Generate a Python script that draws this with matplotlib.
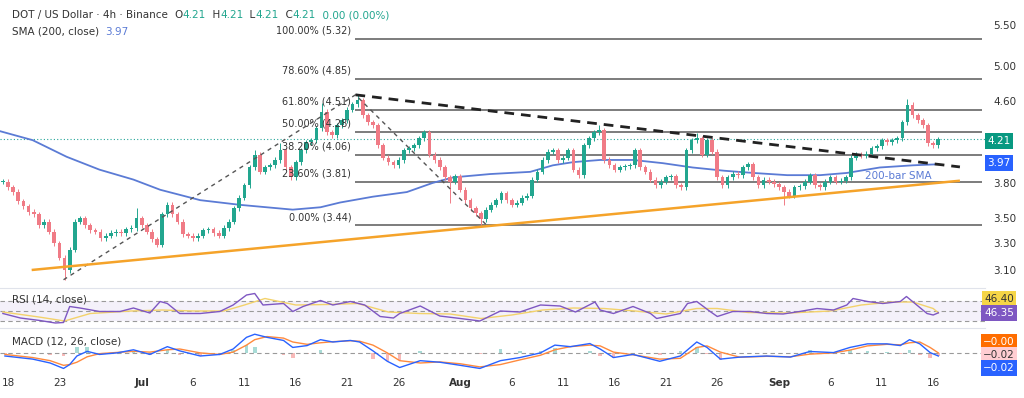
import matplotlib.pyplot as plt
import numpy as np
from matplotlib.ticker import FixedLocator, FormatStrFormatter, NullLocator

# ---- data (x = days since 18 Jun, 00:00) ----
close_days = np.arange(-0.5, 91.0, 0.5)   # 12h bars
closes = np.array([
    3.81, 3.76, 3.72, 3.64, 3.60, 3.55, 3.53, 3.44, 3.47, 3.39,
    3.30, 3.19, 3.10, 3.25, 3.47, 3.50, 3.44, 3.40, 3.39, 3.34,
    3.36, 3.38, 3.39, 3.38, 3.41, 3.42, 3.50, 3.44, 3.39, 3.33,
    3.29, 3.53, 3.61, 3.53, 3.47, 3.37, 3.36, 3.34, 3.36, 3.40,
    3.41, 3.38, 3.36, 3.42, 3.47, 3.58, 3.67, 3.78, 3.94, 4.06,
    3.90, 3.94, 3.96, 4.01, 4.10, 3.94, 3.85, 3.99, 4.10, 4.18,
    4.20, 4.32, 4.49, 4.28, 4.25, 4.35, 4.40, 4.51, 4.57, 4.61,
    4.45, 4.38, 4.35, 4.15, 4.03, 3.99, 3.96, 4.01, 4.10, 4.12,
    4.15, 4.22, 4.28, 4.06, 4.01, 3.94, 3.85, 3.81, 3.86, 3.74,
    3.65, 3.58, 3.54, 3.49, 3.57, 3.61, 3.65, 3.71, 3.65, 3.61,
    3.63, 3.67, 3.69, 3.83, 3.90, 4.01, 4.09, 4.10, 4.01, 4.03,
    4.10, 3.92, 3.87, 4.15, 4.22, 4.28, 4.30, 4.01, 3.96, 3.92,
    3.94, 3.95, 3.96, 4.10, 3.94, 3.90, 3.83, 3.78, 3.81, 3.85,
    3.86, 3.78, 3.76, 4.10, 4.20, 4.22, 4.06, 4.20, 4.09, 3.85,
    3.78, 3.85, 3.88, 3.87, 3.94, 3.97, 3.85, 3.78, 3.83, 3.81,
    3.79, 3.76, 3.72, 3.69, 3.76, 3.77, 3.81, 3.87, 3.78, 3.76,
    3.81, 3.85, 3.81, 3.82, 3.85, 4.03, 4.06, 4.05, 4.07, 4.12,
    4.14, 4.20, 4.18, 4.20, 4.22, 4.38, 4.56, 4.45, 4.40, 4.35,
    4.17, 4.15, 4.21,
])
spike_highs = {12.5: 3.58, 24.0: 4.10, 26.5: 4.17, 30.5: 4.58, 34.0: 4.67,
               57.5: 4.35, 67.0: 4.27, 87.5: 4.63}
spike_lows = {5.5: 3.03, 43.0: 3.63, 46.0: 3.44, 75.5: 3.61}

sma_days = [-0.8, 2.4, 5.7, 8.9, 12.2, 14.8, 18.7, 22.6, 27.7, 30.4, 32.3,
            35.5, 38.8, 41.3, 43.3, 46.9, 50.8, 53.0, 55.0, 57.6, 60.8, 63.7,
            66.6, 69.7, 72.5, 75.8, 79.0, 81.6, 84.8, 88.0, 90.5]
sma_vals = [4.29, 4.20, 4.04, 3.92, 3.83, 3.74, 3.65, 3.61, 3.57, 3.59, 3.63,
            3.68, 3.72, 3.80, 3.85, 3.88, 3.90, 3.96, 3.99, 4.01, 4.01, 3.98,
            3.94, 3.91, 3.89, 3.87, 3.87, 3.89, 3.94, 3.96, 3.97]

fib_pct = ['100.00%', '78.60%', '61.80%', '50.00%', '38.20%', '23.60%', '0.00%']
fib_vals = [5.32, 4.85, 4.51, 4.28, 4.06, 3.81, 3.44]
fib_pivot_days = [5.4, 33.8, 46.6]
fib_pivot_prices = [3.03, 4.67, 3.44]
support_days = [2.3, 92.6]
support_prices = [3.10, 3.82]
resist_days = [33.8, 92.6]
resist_prices = [4.67, 3.945]
last_price = 4.21

price_ticks = [3.10, 3.30, 3.50, 3.80, 4.60, 5.00, 5.50]

rsi_days = [-0.5, 1.2, 3.1, 4.6, 5.4, 6.0, 7.0, 8.9, 10.9, 12.2, 13.8, 14.8,
            15.5, 16.7, 18.7, 20.6, 21.9, 23.2, 24.0, 24.8, 26.8, 27.7, 28.7,
            30.4, 31.6, 33.3, 34.7, 36.2, 37.5, 38.1, 40.1, 42.0, 44.0, 45.9,
            47.9, 49.8, 51.8, 53.7, 55.2, 57.1, 57.6, 58.9, 60.8, 62.5, 63.1,
            65.4, 66.1, 67.0, 68.3, 69.0, 70.5, 72.2, 73.8, 75.4, 77.0, 78.7,
            80.3, 81.6, 82.2, 83.6, 85.1, 86.8, 87.4, 88.4, 89.4, 90.0, 90.5]
rsi_vals = [45, 36, 31, 26, 27, 59, 56, 49, 49, 56, 46, 69,
            65, 45, 45, 49, 62, 82, 85, 62, 65, 49, 59,
            71, 62, 69, 62, 39, 36, 45, 60, 40, 35, 30,
            50, 48, 62, 60, 48, 68, 52, 45, 59, 45, 35,
            45, 65, 69, 49, 39, 49, 49, 45, 44, 49, 55,
            52, 62, 75, 69, 65, 69, 79, 62, 45, 42, 46.35]
rsi_ma_days = [-0.5, 3, 5.5, 8, 12, 15, 18, 21, 23, 25, 28, 31, 34, 37, 40, 43,
               46, 49, 52, 55, 58, 61, 64, 67, 69, 72, 76, 80, 83, 86, 88, 90,
               90.5]
rsi_ma_vals = [48, 38, 30, 45, 50, 52, 50, 50, 62, 75, 62, 63, 65, 48, 45, 44,
               35, 42, 52, 56, 55, 50, 44, 55, 55, 47, 46, 50, 62, 68, 68, 55,
               46.40]

macd_days = [-0.3, 2.4, 4.1, 5.4, 6.0, 6.7, 7.7, 8.9, 10.6, 12.2, 13.8, 15.5,
             16.7, 18.7, 20.6, 21.9, 23.2, 24.0, 25.2, 26.8, 27.7, 29.1, 30.4,
             31.6, 33.3, 34.2, 35.5, 36.9, 38.1, 40.1, 42.0, 44.0, 45.9, 47.9,
             49.8, 51.8, 53.2, 54.7, 56.6, 57.6, 58.9, 60.8, 63.4, 65.4, 67.0,
             68.0, 69.3, 71.2, 73.8, 76.1, 78.0, 80.3, 81.9, 83.6, 85.5, 86.8,
             87.7, 88.7, 89.7, 90.5]
macd_vals = [-0.02, -0.04, -0.065, -0.10, -0.075, -0.02, 0.01, -0.01, 0.0,
             0.02, -0.01, 0.04, 0.013, -0.02, -0.01, 0.025, 0.10, 0.12, 0.10,
             0.08, 0.035, 0.047, 0.085, 0.07, 0.08, 0.07, 0.013, -0.054,
             -0.094, -0.05, -0.06, -0.08, -0.10, -0.05, -0.03, 0.0, 0.05,
             0.04, 0.06, 0.025, -0.03, -0.01, -0.054, -0.02, 0.07, 0.035,
             -0.04, -0.027, -0.02, -0.027, 0.009, 0.002, 0.035, 0.058, 0.058,
             0.047, 0.085, 0.058, 0.002, -0.02]
signal_vals = [-0.01, -0.03, -0.05, -0.08, -0.075, -0.06, -0.025, -0.005,
               0.003, 0.01, 0.005, 0.02, 0.025, 0.0, -0.01, 0.005, 0.05, 0.085,
               0.105, 0.095, 0.07, 0.055, 0.065, 0.072, 0.078, 0.075, 0.05,
               0.0, -0.05, -0.065, -0.058, -0.07, -0.09, -0.075, -0.045,
               -0.015, 0.02, 0.04, 0.05, 0.045, 0.005, -0.012, -0.04, -0.035,
               0.035, 0.045, 0.005, -0.028, -0.022, -0.025, -0.008, 0.0,
               0.018, 0.045, 0.055, 0.052, 0.065, 0.07, 0.035, -0.0]

tick_days = [0, 5, 13, 18, 23, 28, 33, 38, 44, 49, 54, 59, 64, 69, 75, 80, 85, 90]
tick_labels = ['18', '23', 'Jul', '6', '11', '16', '21', '26', 'Aug', '6',
               '11', '16', '21', '26', 'Sep', '6', '11', '16']

# ---- colours ----
GREEN = '#22a68f'
RED = '#f07b86'
SMA_BLUE = '#5b7bd5'
TXT = '#333333'

W, H = 1024, 398
fig = plt.figure(figsize=(W / 100, H / 100), dpi=100)


def panel(top, bottom):
    return [0, 1 - bottom / H, 985 / W, (bottom - top) / H]


ax = fig.add_axes(panel(0, 286))
ax_rsi = fig.add_axes(panel(288, 326), sharex=ax)
ax_macd = fig.add_axes(panel(328, 370), sharex=ax)

# ---- price panel ----
ax.set_yscale('log')
ax.set_ylim(2.986, 5.83)
ax.set_xlim(-0.78, 95.04)

opens = np.r_[closes[0], closes[:-1]]
body_lo = np.minimum(opens, closes)
body_hi = np.maximum(opens, closes)
highs = body_hi * 1.006
lows = body_lo * 0.994
for d, v in spike_highs.items():
    highs[int(round((d + 0.5) * 2))] = v
for d, v in spike_lows.items():
    lows[int(round((d + 0.5) * 2))] = v
cols = np.where(closes >= opens, GREEN, RED)
ax.vlines(close_days, lows, highs, colors=cols, lw=0.7, zorder=3)
ax.bar(close_days, np.maximum(body_hi - body_lo, 0.004), bottom=body_lo,
       width=0.36, color=cols, zorder=3)

ax.plot(sma_days, sma_vals, color=SMA_BLUE, lw=1.3, zorder=2)
ax.text(83.4, 3.86, '200-bar SMA', color=SMA_BLUE, fontsize=7.5, va='center')

for pct, v in zip(fib_pct, fib_vals):
    ax.hlines(v, fib_pivot_days[1], 94.7, color='#666666', lw=1.2, zorder=1)
    ax.annotate(f'{pct} ({v:.2f})', xy=(33.4, v), xytext=(0, 2.5),
                textcoords='offset points', ha='right', va='bottom',
                fontsize=7, color=TXT)

ax.plot(fib_pivot_days, fib_pivot_prices, color='#555555', lw=1,
        dashes=(3, 3), zorder=4)
ax.plot(support_days, support_prices, color='#f5a32a', lw=1.8, zorder=4,
        solid_capstyle='butt')
ax.plot(resist_days, resist_prices, color='#222222', lw=2, dashes=(3.5, 2.5),
        zorder=4)
ax.axhline(last_price, color='#26a69a', lw=0.8, ls=(0, (1, 2)), zorder=1)

ax.yaxis.tick_right()
ax.yaxis.set_major_locator(FixedLocator(price_ticks))
ax.yaxis.set_major_formatter(FormatStrFormatter('%.2f'))
ax.yaxis.set_minor_locator(NullLocator())
ax.tick_params(axis='y', length=0, pad=6, labelsize=7.5, labelcolor=TXT)
ax.tick_params(axis='x', length=0, labelbottom=False)

# ---- RSI panel ----
ax_rsi.set_ylim(20, 96)
ax_rsi.axhspan(30, 70, color='#7e57c2', alpha=0.08, lw=0)
for lvl in (70, 50, 30):
    ax_rsi.axhline(lvl, color='#9a9a9a', lw=0.8, dashes=(4, 3))
ax_rsi.plot(rsi_ma_days, rsi_ma_vals, color='#f3d26b', lw=1.0)
ax_rsi.plot(rsi_days, rsi_vals, color='#7e57c2', lw=1.0)
ax_rsi.set_yticks([])
ax_rsi.tick_params(axis='x', length=0, labelbottom=False)

# ---- MACD panel ----
ax_macd.set_ylim(-0.11, 0.16)
ax_macd.axhline(0, color='#9a9a9a', lw=0.8, dashes=(4, 3))
hist = np.array(macd_vals) - np.array(signal_vals)
ax_macd.bar(macd_days, hist, width=0.35,
            color=np.where(hist >= 0, '#26a69a', '#ef5350'), alpha=0.4)
ax_macd.plot(macd_days, signal_vals, color='#ff8a3d', lw=1.0)
ax_macd.plot(macd_days, macd_vals, color='#2962ff', lw=1.0)
ax_macd.set_yticks([])
ax_macd.set_xticks(tick_days)
ax_macd.set_xticklabels(tick_labels)
ax_macd.tick_params(axis='x', length=0, pad=6, labelsize=7.5, labelcolor=TXT)
for lab in ax_macd.get_xticklabels():
    if lab.get_text() in ('Jul', 'Aug', 'Sep'):
        lab.set_fontweight('bold')

for a in (ax, ax_rsi, ax_macd):
    for s in a.spines.values():
        s.set_visible(False)
for a in (ax_rsi, ax_macd):
    a.spines['top'].set_visible(True)
    a.spines['top'].set_color('#e0e3eb')


# ---- legends / headers: coloured pieces laid out one after another ----
def chain_text(x, y, parts, size=7.5):
    prev = fig.text(x, y, parts[0][0], color=parts[0][1], fontsize=size,
                    va='bottom')
    for s, c in parts[1:]:
        prev = ax.annotate(s, xy=(1, 0), xycoords=prev, va='bottom',
                           ha='left', color=c, fontsize=size,
                           annotation_clip=False)
    return prev


chain_text(12 / W, 1 - 20 / H, [
    ('DOT / US Dollar · 4h · Binance  ', TXT), ('O', TXT), ('4.21', GREEN),
    ('  H', TXT), ('4.21', GREEN), ('  L', TXT), ('4.21', GREEN),
    ('  C', TXT), ('4.21', GREEN), ('  0.00 (0.00%)', GREEN)])
chain_text(12 / W, 1 - 37 / H, [('SMA (200, close)  ', TXT),
                                ('3.97', SMA_BLUE)])
chain_text(12 / W, 1 - 305 / H, [('RSI (14, close)  ', TXT),
                                 ('46.35', '#7e57c2'), ('  46.40', '#e8c53a')])
chain_text(12 / W, 1 - 347 / H, [('MACD (12, 26, close)  ', TXT),
                                 ('\u22120.02', '#f4a9b0'),
                                 ('  \u22120.02', '#2962ff'),
                                 ('  \u22120.00', '#ff6d00')])

# right-hand value tags
tags = [('4.21', 141, '#089981', 'white'),
        ('3.97', 163, '#2962ff', 'white'),
        ('46.40', 299, '#f5d547', TXT),
        ('46.35', 313, '#7e57c2', 'white'),
        ('\u22120.00', 342, '#ff6d00', 'white'),
        ('\u22120.02', 355, '#ffcdd2', TXT),
        ('\u22120.02', 368, '#2962ff', 'white')]
for s, yc, fc, tc in tags:
    fig.text(999 / W, 1 - yc / H, s, ha='center', va='center', fontsize=7.5,
             color=tc, bbox=dict(boxstyle='square,pad=0.25', fc=fc, ec='none'))

fig.savefig('out.png', dpi=100, facecolor='white')
